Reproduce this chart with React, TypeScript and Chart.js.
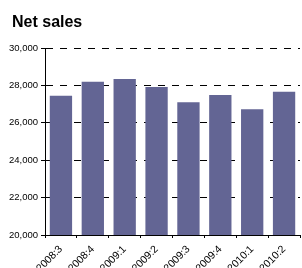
import React, { useEffect, useRef } from "react";
import { Chart, registerables } from "chart.js";

Chart.register(...registerables);

const title = "Net sales";
const categories = ["2008:3", "2008:4", "2009:1", "2009:2", "2009:3", "2009:4", "2010:1", "2010:2"];
const netSales = [27440, 28190, 28340, 27910, 27100, 27480, 26730, 27660];
const yTicks = [20000, 22000, 24000, 26000, 28000, 30000];

const FONT = "Liberation Sans, Arial, sans-serif";

export default function App() {
  const ref = useRef<HTMLCanvasElement>(null);
  useEffect(() => {
    if (!ref.current) return;
    const chart = new Chart(ref.current, {
      type: "bar",
      data: {
        labels: categories,
        datasets: [
          {
            data: netSales,
            backgroundColor: "#636594",
            barPercentage: 0.7,
            categoryPercentage: 1,
          },
        ],
      },
      options: {
        animation: false,
        responsive: false,
        layout: { padding: { left: 0, right: 2, top: 48, bottom: 0 } },
        plugins: {
          legend: { display: false },
          tooltip: { enabled: false },
          title: { display: false },
        },
        scales: {
          x: {
            afterFit: (axis: any) => {
              axis.height = 33;
            },
            grid: {
              display: true,
              drawOnChartArea: false,
              offset: true,
              color: "#000",
              tickLength: 3,
            },
            border: { color: "#000", width: 1 },
            ticks: {
              color: "#000",
              maxRotation: 45,
              minRotation: 45,
              font: { family: FONT, size: 10.5 },
              padding: 5,
            },
          },
          y: {
            min: 20000,
            max: 30000,
            afterBuildTicks: (axis: any) => {
              axis.ticks = yTicks.map((v) => ({ value: v }));
            },
            afterFit: (axis: any) => {
              axis.width = 45;
            },
            grid: {
              color: "#000",
              lineWidth: 1,
              tickBorderDash: [],
              tickLength: 4,
              tickColor: "#000",
            },
            border: { color: "#000", width: 1, dash: [7, 7] },
            ticks: {
              color: "#000",
              padding: 3,
              font: { family: FONT, size: 9.5 },
              callback: (v: any) => Number(v).toLocaleString("en-US"),
            },
          },
        },
      },
    });
    return () => chart.destroy();
  }, []);
  return (
    <div style={{ position: "fixed", left: 0, top: 0, width: 302, height: 268, background: "#fff" }}>
      <canvas ref={ref} width={302} height={268} style={{ width: 302, height: 268, display: "block" }} />
      <div
        style={{
          position: "absolute",
          left: 12,
          top: 12,
          fontFamily: FONT,
          fontWeight: "bold",
          fontSize: 16,
          lineHeight: "19px",
          color: "#000",
        }}
      >
        {title}
      </div>
    </div>
  );
}
